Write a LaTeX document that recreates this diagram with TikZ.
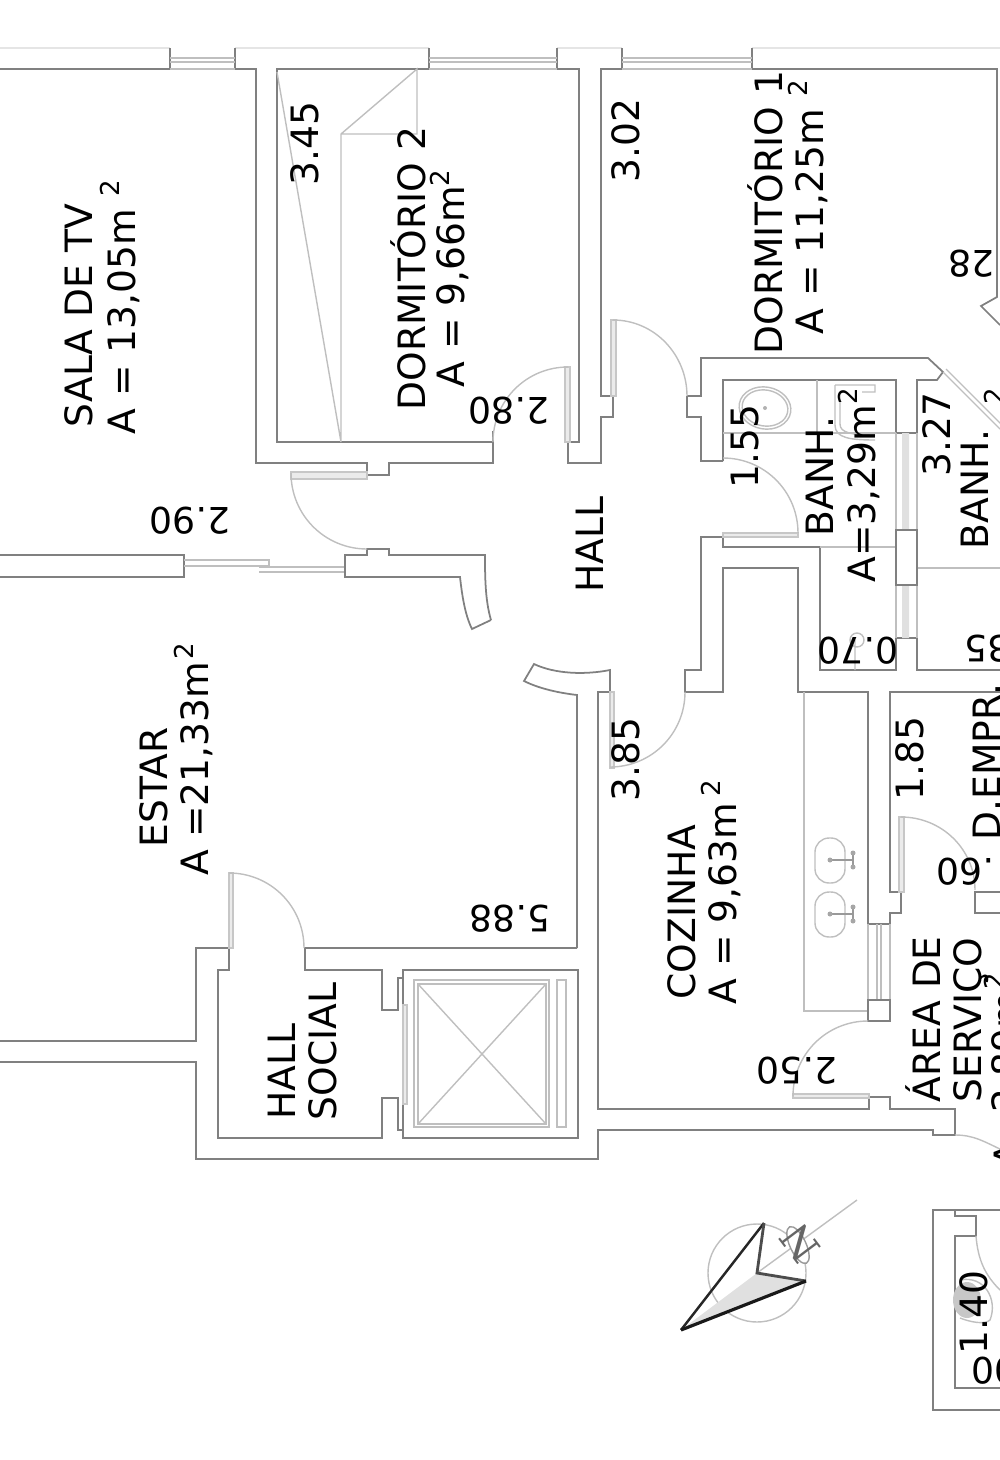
\documentclass[tikz,border=0pt]{standalone}
\usepackage{fontspec}
\setmainfont{DejaVu Sans}
\newfontfamily\northfont{DejaVu Serif}
\tikzset{
	wall/.style={draw=black!50,line width=0.5pt,line join=miter},
	thinline/.style={draw=black!25,line width=0.4pt},
	faint/.style={draw=black!10,line width=0.4pt},
	leaf/.style={draw=black!22,fill=black!8,line width=0.3pt},
	roomtext/.style={rotate=90,anchor=base west,inner sep=0pt,xshift=-0.03cm,font=\fontsize{10.7}{12}\selectfont},
	flipped/.style={rotate=180,anchor=base west,inner sep=0pt,xshift=-0.02cm,font=\fontsize{10.3}{12}\selectfont},
	squared/.style={rotate=90,anchor=base west,inner sep=0pt,font=\fontsize{7.4}{8}\selectfont}
}
\begin{document}
\begin{tikzpicture}[x=0.01cm,y=-0.01cm]
	\useasboundingbox (0,0) rectangle (1000,1460);
	\clip (0,0) rectangle (1000,1460);
	%%%%% TOP WALL %%%%%
	\draw[faint] (0,48) -- (170,48) (235,48) -- (429,48) (557,48) -- (622,48) (752,48) -- (1000,48);
	\draw[wall] (0,69) -- (170,69) -- (170,48);
	\draw[wall] (235,48) -- (235,69) -- (256,69) -- (256,463) -- (367,463) -- (367,475) -- (389,475) -- (389,463) -- (493,463) -- (493,431);
	\draw[wall] (429,48) -- (429,69) -- (277,69) -- (277,442) -- (493,442);
	\draw[wall] (557,48) -- (557,69) -- (579,69) -- (579,442) -- (568,442) -- (568,463) -- (601,463) -- (601,417) -- (613,417) -- (613,396) -- (601,396) -- (601,69) -- (622,69) -- (622,48);
	\draw[wall] (752,48) -- (752,69) -- (997,69) -- (997,297) -- (981,306) -- (1000,325);
	\foreach \xa/\xb in {170/235,429/557,622/752} {
		\draw[thinline] (\xa,58) -- (\xb,58) (\xa,62) -- (\xb,62) (\xa,69) -- (\xb,69);
	}
	%%%%% CLOSET %%%%%
	\draw[thinline] (277,72) -- (341,442) -- (341,134) -- (417,69) -- (417,134) -- (341,134);
	%%%%% BATHROOMS %%%%%
	\draw[wall] (687,396) -- (701,396) -- (701,358) -- (928,358) -- (943,372) -- (937,380) -- (917,380) -- (917,433) -- (896,433) -- (896,380) -- (723,380) -- (723,461);
	\draw[wall] (723,533) -- (723,547) -- (820,547) -- (820,670) -- (896,670) -- (896,638) -- (917,638) -- (917,670) -- (1000,670);
	\draw[wall] (687,396) -- (687,417) -- (701,417) -- (701,461) -- (723,461);
	\draw[thinline] (943,372) -- (1000,429) (946,369) -- (1003,426);
	\draw[thinline] (723,433) -- (896,433) (817,380) -- (817,433) (820,547) -- (896,547) (917,568) -- (1000,568);
	\draw[thinline] (896,433) -- (896,530) (917,433) -- (917,530) (896,585) -- (896,638) (917,585) -- (917,638);
	\fill[black!12] (902,433) rectangle (909,530) (902,585) rectangle (909,638);
	\draw[wall] (896,530) rectangle (917,585);
	\draw[thinline,rotate around={-10:(765,408)}] (765,408) ellipse (26 and 21) (765,408) ellipse (23 and 18);
	\fill[black!30] (765,408) circle (2);
	\draw[thinline] (835,385) -- (875,385) -- (875,392) -- (862,392) (835,385) -- (835,425) .. controls (835,438) and (850,440) .. (875,440) (840,392) -- (840,424) .. controls (840,433) and (852,435) .. (875,435);
	\draw[thinline] (857,640) circle (7) (855,640) -- (855,670);
	%%%%% HALL AND KITCHEN WALLS %%%%%
	\draw[wall] (723,537) -- (701,537) -- (701,670) -- (685,670) -- (685,692) -- (723,692) -- (723,568) -- (798,568) -- (798,692) -- (868,692) -- (868,924) -- (890,924) -- (890,913) -- (901,913) -- (901,892) -- (890,892) -- (890,692) -- (1000,692);
	\draw[wall] (1000,892) -- (975,892) -- (975,913) -- (1000,913);
	\draw[wall] (577,948) -- (577,695) .. controls (560,693) and (540,689) .. (524,681) -- (534,664) .. controls (555,674) and (585,675) .. (610,670) -- (610,692) -- (598,692) -- (598,1109) -- (869,1109) -- (869,1097) -- (890,1097) -- (890,1109) -- (955,1109) -- (955,1135) -- (933,1135) -- (933,1130) -- (598,1130) -- (598,1159) -- (196,1159) -- (196,1062) -- (0,1062);
	%%%%% KITCHEN COUNTER %%%%%
	\draw[thinline] (804,692) -- (804,1011) -- (868,1011);
	\foreach \ya in {838,892} {
		\draw[thinline,rounded corners=4] (815,\ya) rectangle (845,\ya+45);
		\draw[black!40,line width=0.4pt] (830,\ya+22) -- (853,\ya+22) (853,\ya+15) -- (853,\ya+30);
		\fill[black!35] (830,\ya+22) circle (2.5) (853,\ya+15) circle (2.5) (853,\ya+29) circle (2.5);
	}
	\draw[thinline] (868,924) -- (868,1000) (890,924) -- (890,1000) (877,924) -- (877,1000) (881,924) -- (881,1000);
	\draw[wall] (868,1000) rectangle (890,1021);
	%%%%% LIVING ROOM AND ELEVATOR %%%%%
	\draw[wall] (0,555) -- (184,555) -- (184,577) -- (0,577);
	\draw[thinline] (184,560) -- (269,560) -- (269,566) -- (184,566);
	\draw[thinline] (259,567) -- (345,567) (259,572) -- (345,572);
	\draw[wall] (491,620) .. controls (485,600) and (485,575) .. (485,555) -- (389,555) -- (389,549) -- (367,549) -- (367,555) -- (345,555) -- (345,577) -- (460,577) .. controls (462,595) and (465,615) .. (472,629) -- (491,620);
	\draw[wall] (577,948) -- (305,948) -- (305,970) -- (382,970) -- (382,1010) -- (398,1010) -- (398,978) -- (403,978);
	\draw[wall] (0,1041) -- (196,1041) -- (196,948) -- (229,948) -- (229,970) -- (218,970) -- (218,1138) -- (382,1138) -- (382,1098) -- (398,1098) -- (398,1130) -- (403,1130);
	\draw[wall] (403,970) rectangle (578,1138);
	\draw[leaf] (403,1005) rectangle (407,1104);
	\draw[thinline,line width=0.8pt] (414,980) rectangle (549,1127);
	\draw[thinline] (418,984) rectangle (546,1124);
	\draw[thinline] (418,984) -- (546,1124) (546,984) -- (418,1124);
	\draw[thinline] (557,980) rectangle (566,1127);
	%%%%% DOORS %%%%%
	\draw[leaf] (291,472) rectangle (367,479);
	\draw[thinline] (291,473) to[out=-90,in=180] (367,549);
	\draw[leaf] (565,367) rectangle (570,442);
	\draw[thinline] (568,367) to[out=180,in=90] (493,442);
	\draw[leaf] (611,320) rectangle (616,396);
	\draw[thinline] (613,320) to[out=0,in=90] (687,396);
	\draw[leaf] (723,533) rectangle (798,537);
	\draw[thinline] (798,533) to[out=90,in=0] (723,458);
	\draw[leaf] (610,692) rectangle (614,768);
	\draw[thinline] (685,692) to[out=-90,in=0] (610,767);
	\draw[leaf] (229,873) rectangle (233,948);
	\draw[thinline] (229,873) to[out=0,in=90] (304,948);
	\draw[leaf] (899,817) rectangle (904,892);
	\draw[thinline] (901,817) to[out=0,in=90] (975,890);
	\draw[leaf] (793,1094) rectangle (869,1098);
	\draw[thinline] (868,1021) to[out=180,in=90] (793,1096);
	\draw[thinline] (955,1135) to[out=0,in=155] (1000,1149);
	%%%%% LOWER RIGHT ROOM %%%%%
	\draw[wall] (1000,1210) -- (933,1210) -- (933,1410) -- (1000,1410);
	\draw[wall] (955,1210) -- (955,1216) -- (976,1216) -- (976,1236) -- (955,1236) -- (955,1388) -- (1000,1388);
	\draw[thinline] (976,1236) .. controls (978,1260) and (985,1275) .. (1000,1290);
	\fill[black!22] (967,1300) ellipse (14 and 18);
	\draw[thinline] (960,1280) .. controls (985,1275) and (998,1300) .. (990,1320) .. controls (985,1325) and (970,1322) .. (960,1318);
	%%%%% COMPASS %%%%%
	\coordinate (tip) at (681,1330);
	\coordinate (wingb) at (764,1223);
	\coordinate (wingc) at (806,1281);
	\coordinate (mid) at (757,1273);
	\draw[thinline] (757,1273) circle (49);
	\fill[black!12] (tip) -- (mid) -- (wingc) -- cycle;
	\draw[thinline] (mid) -- (857,1200);
	\draw[black!40,fill=white,line width=0.4pt,rotate around={-65:(798,1245)}] (798,1245) ellipse (20 and 8);
	\node[rotate=127,inner sep=0pt,text=black!60,font=\northfont\fontsize{11.5}{12}\selectfont] (north) at (800,1243) {N};
	\draw[black!85,line width=0.7pt] (tip) -- (wingb);
	\draw[black!70,line width=0.8pt] (wingb) -- (mid) -- (wingc);
	\draw[black!90,line width=0.9pt] (tip) -- (wingc);
	%%%%% ROOM NAMES %%%%%
	\node[roomtext] (salatv) at (93,425) {SALA DE TV};
	\node[roomtext] (salaarea) at (135,432) {A = 13,05m};
	\node[squared] (salasq) at (119,197) {2};
	\node[roomtext] (dormb) at (425,408) {DORMITÓRIO 2};
	\node[roomtext] (dormbarea) at (464,385) {A = 9,66m};
	\node[squared] (dormbsq) at (449,187) {2};
	\node[roomtext] (dorma) at (782,352) {DORMITÓRIO 1};
	\node[roomtext] (dormaarea) at (823,332) {A = 11,25m};
	\node[squared] (dormasq) at (807,97) {2};
	\node[roomtext] (banha) at (833,534) {BANH.};
	\node[roomtext] (banhaarea) at (875,580) {A=3,29m};
	\node[squared] (banhasq) at (857,405) {2};
	\node[roomtext] (banhb) at (988,547) {BANH.};
	\node[squared] (banhbsq) at (1003,405) {2};
	\node[roomtext] (hall) at (603,590) {HALL};
	\node[roomtext] (estar) at (167,845) {ESTAR};
	\node[roomtext] (estararea) at (208,873) {A =21,33m};
	\node[squared] (estarsq) at (193,660) {2};
	\node[roomtext] (cozinha) at (695,997) {COZINHA};
	\node[roomtext] (cozinhaarea) at (736,1002) {A = 9,63m};
	\node[squared] (cozinhasq) at (720,797) {2};
	\node[roomtext] (hallsocial) at (295,1117) {HALL};
	\node[roomtext] (hallsocialb) at (336,1118) {SOCIAL};
	\node[roomtext] (empr) at (1000,838) {D.EMPR.};
	\node[roomtext] (areaserv) at (940,1100) {ÁREA DE};
	\node[roomtext] (areaservb) at (981,1100) {SERVIÇO};
	\node[roomtext] (areaservc) at (1019,1110) {2,89m};
	\node[squared] (areaservsq) at (1003,990) {2};
	\node[roomtext] (lastarea) at (1021,1165) {A};
	%%%%% MEASURES %%%%%
	\node[roomtext] (mesa) at (318,183) {3.45};
	\node[roomtext] (mesb) at (639,180) {3.02};
	\node[roomtext] (mesc) at (758,486) {1.55};
	\node[roomtext] (mesd) at (950,474) {3.27};
	\node[roomtext] (mese) at (639,799) {3.85};
	\node[roomtext] (mesf) at (923,798) {1.85};
	\node[roomtext] (mesg) at (987,1352) {1.40};
	\node[flipped] (flipa) at (993,250) {28};
	\node[flipped] (flipb) at (548,397) {2.80};
	\node[flipped] (flipc) at (229,507) {2.90};
	\node[flipped] (flipd) at (897,637) {0.70};
	\node[flipped] (flipe) at (1009,635) {35};
	\node[flipped] (flipf) at (993,858) {.60};
	\node[flipped] (flipg) at (549,905) {5.88};
	\node[flipped] (fliph) at (836,1057) {2.50};
	\node[flipped] (flipi) at (1016,1357) {00};
\end{tikzpicture}
\end{document}
